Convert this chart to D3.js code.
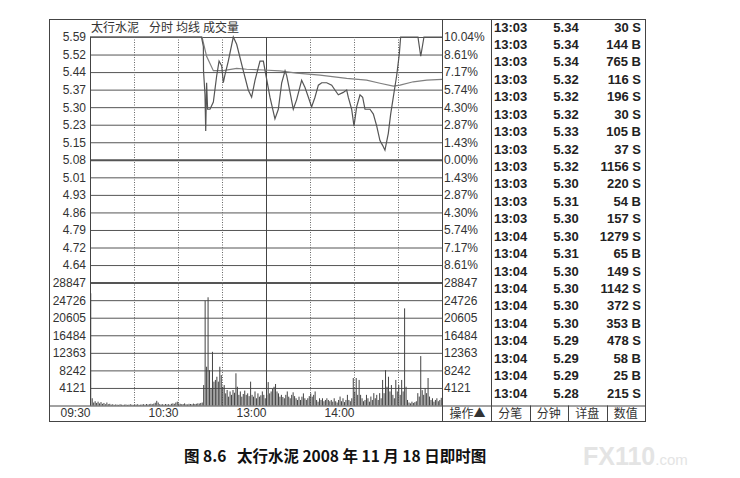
<!DOCTYPE html>
<html>
<head>
<meta charset="utf-8">
<script src="https://cdn.jsdelivr.net/npm/d3@7"></script>
<style>
  body { margin: 0; background: #fff; }
  svg { display: block; }
  text { font-family: "Liberation Sans", Arial, sans-serif; }
  .cjk { font-family: "Noto Sans CJK SC", sans-serif; }
</style>
</head>
<body>
<svg id="chart" width="740" height="478"></svg>
<script>
// ---- data ----
var prevClose = 5.08;
var limitPct = 0.1004;

var priceLabels = ["5.59", "5.52", "5.44", "5.37", "5.30", "5.23", "5.15", "5.08",
                   "5.01", "4.93", "4.86", "4.79", "4.72", "4.64"];
var pctLabels = ["10.04%", "8.61%", "7.17%", "5.74%", "4.30%", "2.87%", "1.43%", "0.00%",
                 "1.43%", "2.87%", "4.30%", "5.74%", "7.17%", "8.61%"];
var volTicks = [28847, 24726, 20605, 16484, 12363, 8242, 4121];

var timeTicks = [0, 60, 120, 180];
var timeLabels = ["09:30", "10:30", "13:00", "14:00"];
var gridMinutes = [30, 60, 90, 120, 150, 180, 210];

// price line: minutes after open, price
var priceMin = [0, 76, 77.3, 77.4, 78.4, 78.9, 79.5, 80.2, 81.8, 84.1, 86.4, 88, 89.8, 90.9, 91.9,
  94.3, 97.7, 100, 104.5, 107.9, 110.2, 112.5, 115.9, 118.2, 120, 122.7, 126.1, 128.4, 130.7,
  133, 134.1, 136.4, 138.6, 140.9, 144.3, 146.6, 148.9, 151.1, 153.4, 155.7, 158, 161.4, 164.8,
  167, 169.3, 172.7, 175, 176.1, 178.4, 180, 181.8, 184.1, 185.9, 187.5, 190.9, 193.2, 195.5,
  197.7, 199.5, 201.1, 203.4, 205, 206.8, 209.1, 210.9, 211.8, 223.6, 225.5, 227.7, 240];
var priceVal = [5.59, 5.59, 5.55, 5.45, 5.35, 5.20, 5.40, 5.29, 5.29, 5.32, 5.43, 5.49, 5.47, 5.40, 5.43,
  5.49, 5.59, 5.56, 5.45, 5.37, 5.34, 5.41, 5.49, 5.49, 5.43, 5.34, 5.25, 5.29, 5.40,
  5.45, 5.43, 5.36, 5.29, 5.33, 5.41, 5.38, 5.34, 5.30, 5.34, 5.39, 5.40, 5.40, 5.39,
  5.37, 5.35, 5.36, 5.37, 5.34, 5.29, 5.22, 5.30, 5.35, 5.34, 5.29, 5.29, 5.27, 5.22,
  5.16, 5.14, 5.12, 5.19, 5.27, 5.34, 5.43, 5.52, 5.59, 5.59, 5.51, 5.59, 5.59];

// average price line
var avgMin = [0, 76.4, 79.5, 84.1, 90.9, 100, 106.8, 118.2, 129.5, 140.9, 156.8, 175, 188.6,
  197.7, 206.8, 211.4, 220.4, 229.6, 240];
var avgVal = [5.59, 5.59, 5.51, 5.45, 5.45, 5.46, 5.456, 5.453, 5.449, 5.44, 5.432, 5.418, 5.411,
  5.398, 5.386, 5.39, 5.404, 5.411, 5.414];

// volume per minute (240 minutes)
var volumes = [
  26350, 1700, 700, 1000, 600, 900, 500, 800, 400, 600, 300, 700, 300, 400,
  200, 300, 150, 250, 200, 150, 300, 200, 150, 200, 250, 150, 200, 300, 200, 150,
  250, 200, 300, 150, 200, 250, 300, 200, 350, 250, 300, 400, 300, 450,
  650, 1100, 700, 300,
  250, 300, 200, 350, 250, 300, 200, 400, 500, 400,
  700, 900, 500,
  400, 300, 350, 500, 300, 250, 400, 350, 300, 450, 350, 400, 500, 450, 600, 700,
  4800, 24600, 9100, 25400, 8300, 4100, 12600, 5600, 6000, 6750,
  5600, 9100, 7150, 4400, 4800, 2850, 3640, 2070, 3300, 2500,
  3640, 3000, 7560, 4400, 2500, 3300, 2070, 2700, 3500, 2500,
  2850, 2200, 5600, 2500, 2070, 3300, 1700, 2850, 2070, 2400,
  3300, 2500, 1700,
  2500, 5500, 2850, 3300, 3900, 4400, 5050, 3300, 2850, 2070,
  2500, 2000, 1700, 2500, 3300, 2070, 1700, 2500, 3100, 2200,
  1700, 1300, 2070, 1300, 2070, 2850, 1700, 1300, 1700, 2200,
  2850, 2070, 2500, 3300, 1300, 900, 1700, 1300, 1700, 1000,
  1300, 1700, 1300, 1000,
  1300, 900, 1700, 1000, 700, 1300, 2100, 1000, 1700, 800, 1300, 2500, 1300, 1000, 1700,
  6450, 3300, 6450, 2500, 6000, 2500,
  1700, 1000, 1300, 2500, 1700, 900, 2100, 1300, 2900, 1700, 2500, 1300, 2900, 1700,
  6000, 2900, 8300, 4400, 6750, 3300, 4800, 2500, 1700,
  6000, 3300, 4800, 2500, 6000, 3300, 22800, 4400, 1300,
  700, 500, 900, 600, 800, 1000,
  2900, 2100, 11600, 3600, 2500, 4000, 2900, 6450, 2100,
  1300, 1700, 900, 1300, 1700, 1000, 1300, 1800];

// trade ticks table
var tickTimes = ["13:03", "13:03", "13:03", "13:03", "13:03", "13:03", "13:03", "13:03", "13:03",
  "13:03", "13:03", "13:03", "13:04", "13:04", "13:04", "13:04", "13:04", "13:04", "13:04",
  "13:04", "13:04", "13:04"];
var tickPrices = ["5.34", "5.34", "5.34", "5.32", "5.32", "5.32", "5.33", "5.32", "5.32", "5.30",
  "5.31", "5.30", "5.30", "5.31", "5.30", "5.30", "5.30", "5.30", "5.29", "5.29", "5.29", "5.28"];
var tickVols = [30, 144, 765, 116, 196, 30, 105, 37, 1156, 220, 54, 157, 1279, 65, 149, 1142,
  372, 353, 478, 58, 25, 215];
var tickSides = ["S", "B", "B", "S", "S", "S", "B", "S", "S", "S", "B", "S", "S", "B", "S", "S",
  "S", "B", "S", "B", "B", "S"];

var buttons = ["分笔", "分钟", "详盘", "数值"];

// ---- layout ----
var svg = d3.select("#chart");
var frame = {left: 49, top: 19, right: 645, bottom: 421};
var plot = {left: 90, right: 442, top: 37, mid: 282.6, bottom: 405.5};
var tableLeft = 491;
var lineColor = "#555";
var textColor = "#333";

svg.append("rect").attr("width", 740).attr("height", 478).attr("fill", "#fff");

var x = d3.scaleLinear().domain([0, 240]).range([plot.left, plot.right]);
var yP = d3.scaleLinear()
    .domain([prevClose * (1 - limitPct), prevClose * (1 + limitPct)])
    .range([plot.mid, plot.top]);
var yV = d3.scaleLinear().domain([0, 28847]).range([plot.bottom, plot.mid]);

var gridPrices = priceLabels.map(function(d, i) {
  return prevClose * (1 + (7 - i) * limitPct / 7);
});

// horizontal grid
var gPriceGrid = svg.append("g")
    .attr("transform", "translate(" + plot.left + ",0)")
    .call(d3.axisLeft(yP).tickValues(gridPrices.concat([yP.domain()[0]]))
      .tickSize(-(plot.right - plot.left)).tickFormat(""));
gPriceGrid.select(".domain").remove();
gPriceGrid.selectAll(".tick line")
    .attr("stroke", lineColor)
    .attr("stroke-width", function(d, i) { return (i === 7 || i === 14) ? 2 : 1; });

var gVolGrid = svg.append("g")
    .attr("transform", "translate(" + plot.left + ",0)")
    .call(d3.axisLeft(yV).tickValues(volTicks.slice(1))
      .tickSize(-(plot.right - plot.left)).tickFormat(""));
gVolGrid.select(".domain").remove();
gVolGrid.selectAll(".tick line").attr("stroke", lineColor);

// vertical grid
svg.append("g").selectAll("line")
  .data(gridMinutes)
  .enter().append("line")
    .attr("x1", function(d) { return Math.round(x(d)) + 0.5; })
    .attr("x2", function(d) { return Math.round(x(d)) + 0.5; })
    .attr("y1", plot.top)
    .attr("y2", plot.bottom)
    .attr("stroke", function(d) { return d === 120 ? "#444" : "#666"; })
    .attr("stroke-dasharray", function(d) { return d === 120 ? null : "1,1.5"; });

// volume bars
svg.append("g").selectAll("rect")
  .data(volumes)
  .enter().append("rect")
    .attr("x", function(d, i) { return x(i + 0.5) - 0.5; })
    .attr("width", 1)
    .attr("y", function(d) { return yV(d); })
    .attr("height", function(d) { return plot.bottom - yV(d); })
    .attr("fill", "#444");

// price and average lines
var line = d3.line()
    .x(function(d) { return x(d[0]); })
    .y(function(d) { return yP(d[1]); });

svg.append("path")
    .datum(d3.zip(avgMin, avgVal))
    .attr("d", line)
    .attr("fill", "none")
    .attr("stroke", "#808080")
    .attr("stroke-width", 1.2);

svg.append("path")
    .datum(d3.zip(priceMin, priceVal))
    .attr("d", line)
    .attr("fill", "none")
    .attr("stroke", "#555")
    .attr("stroke-width", 1.2);

// axes labels
function labelAxis(axis, tx) {
  var g = svg.append("g").attr("transform", "translate(" + tx + ",0)").call(axis);
  g.select(".domain").remove();
  g.selectAll("text").attr("font-size", 12).attr("fill", textColor)
    .style("font-family", '"Liberation Sans", Arial, sans-serif');
  return g;
}

labelAxis(d3.axisLeft(yP).tickValues(gridPrices).tickSize(0).tickPadding(4)
  .tickFormat(function(d, i) { return priceLabels[i]; }), plot.left);
labelAxis(d3.axisRight(yP).tickValues(gridPrices).tickSize(0).tickPadding(2)
  .tickFormat(function(d, i) { return pctLabels[i]; }), plot.right);
labelAxis(d3.axisLeft(yV).tickValues(volTicks).tickSize(0).tickPadding(4)
  .tickFormat(function(d) { return d; }), plot.left);
labelAxis(d3.axisRight(yV).tickValues(volTicks).tickSize(0).tickPadding(2)
  .tickFormat(function(d) { return d; }), plot.right);

var gTime = svg.append("g")
    .attr("transform", "translate(0," + plot.bottom + ")")
    .call(d3.axisBottom(x).tickValues(timeTicks).tickSize(0).tickPadding(3)
      .tickFormat(function(d, i) { return timeLabels[i]; }));
gTime.select(".domain").remove();
gTime.selectAll("text")
    .attr("text-anchor", "end")
    .attr("font-size", 12)
    .attr("fill", textColor)
    .style("font-family", '"Liberation Sans", Arial, sans-serif');

// frame and separators
var border = svg.append("g").attr("stroke", "#444").attr("fill", "none");
border.append("rect")
    .attr("x", frame.left + 0.5).attr("y", frame.top + 0.5)
    .attr("width", frame.right - frame.left).attr("height", frame.bottom - frame.top);
border.append("line").attr("x1", plot.left + 0.5).attr("x2", plot.left + 0.5)
    .attr("y1", plot.top).attr("y2", plot.bottom);
border.append("line").attr("x1", plot.right + 0.5).attr("x2", plot.right + 0.5)
    .attr("y1", frame.top).attr("y2", frame.bottom);
border.append("line").attr("x1", tableLeft + 0.5).attr("x2", tableLeft + 0.5)
    .attr("y1", frame.top).attr("y2", frame.bottom);
border.append("line").attr("x1", frame.left).attr("x2", frame.right)
    .attr("y1", plot.bottom + 0.5).attr("y2", plot.bottom + 0.5);

// title
var titleParts = [["太行水泥", 91], ["分时", 149], ["均线", 176], ["成交量", 203]];
svg.append("g").selectAll("text")
  .data(titleParts)
  .enter().append("text")
    .attr("class", "cjk")
    .attr("x", function(d) { return d[1]; })
    .attr("y", 32)
    .attr("font-size", 12)
    .attr("fill", textColor)
    .text(function(d) { return d[0]; });

// trades table
var rowY = d3.scalePoint().domain(d3.range(tickTimes.length)).range([27, 393]);
var tbl = svg.append("g")
    .attr("font-size", 13)
    .attr("font-weight", "bold")
    .attr("dominant-baseline", "central");
tbl.selectAll(".tt").data(tickTimes).enter().append("text")
    .attr("x", 494).attr("y", function(d, i) { return rowY(i); })
    .attr("fill", "#222").text(function(d) { return d; });
tbl.selectAll(".tp").data(tickPrices).enter().append("text")
    .attr("x", 566).attr("text-anchor", "middle")
    .attr("y", function(d, i) { return rowY(i); })
    .attr("fill", "#222").text(function(d) { return d; });
tbl.selectAll(".tv").data(tickVols).enter().append("text")
    .attr("x", 641).attr("text-anchor", "end")
    .attr("y", function(d, i) { return rowY(i); })
    .attr("fill", "#222")
    .text(function(d, i) { return d + " " + tickSides[i]; });

// bottom buttons
var btnX = d3.scaleBand().domain(buttons).range([tableLeft, frame.right]);
svg.append("g").selectAll("line")
  .data(buttons.slice(1))
  .enter().append("line")
    .attr("x1", function(d) { return Math.round(btnX(d)) + 0.5; })
    .attr("x2", function(d) { return Math.round(btnX(d)) + 0.5; })
    .attr("y1", plot.bottom).attr("y2", frame.bottom)
    .attr("stroke", "#444");
svg.append("g").selectAll("text")
  .data(buttons)
  .enter().append("text")
    .attr("class", "cjk")
    .attr("x", function(d) { return btnX(d) + btnX.bandwidth() / 2; })
    .attr("y", 418)
    .attr("text-anchor", "middle")
    .attr("font-size", 12)
    .attr("fill", textColor)
    .text(function(d) { return d; });
svg.append("text")
    .attr("class", "cjk")
    .attr("x", (plot.right + tableLeft) / 2 + 1)
    .attr("y", 418)
    .attr("text-anchor", "middle")
    .attr("font-size", 12)
    .attr("fill", textColor)
    .text("操作▲");

// caption
svg.append("text")
    .attr("class", "cjk")
    .attr("x", 184)
    .attr("y", 462)
    .attr("font-size", 15.5)
    .attr("font-weight", "bold")
    .attr("fill", "#111")
    .style("white-space", "pre")
    .text("图 8.6   太行水泥 2008 年 11 月 18 日即时图");

// watermark
var wm = svg.append("text")
    .attr("x", 583).attr("y", 465)
    .attr("fill", "#e4e4e4");
wm.append("tspan")
    .attr("font-size", 25).attr("font-weight", "bold")
    .text("FX110");
wm.append("tspan")
    .attr("font-size", 15)
    .text(".com");
</script>
</body>
</html>
